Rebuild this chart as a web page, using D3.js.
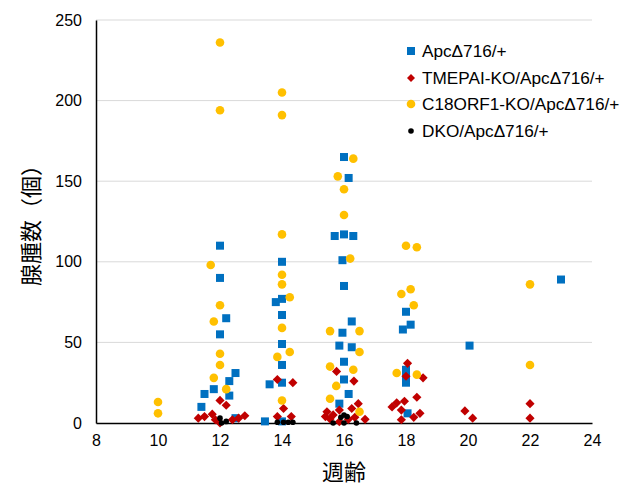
<!DOCTYPE html>
<html><head><meta charset="utf-8">
<script src="https://cdn.jsdelivr.net/npm/d3@7"></script>
<style>body{margin:0;background:#fff}svg{display:block}</style>
</head><body>
<svg id="c" width="634" height="493"></svg>
<script>
const seriesNames = ["ApcΔ716/+", "TMEPAI-KO/ApcΔ716/+", "C18ORF1-KO/ApcΔ716/+", "DKO/ApcΔ716/+"];
const xTicks = [8, 10, 12, 14, 16, 18, 20, 22, 24];
const yTicks = [0, 50, 100, 150, 200, 250];
const xTitle = "週齢";
const yTitle = "腺腫数（個）";

// [week (jittered), count]
const apc = [
  [12,110],[12,90],[12.2,65],[12,55],[12.5,31],[12.3,26],[11.8,21],[11.5,18],[12.3,17],[11.4,10],[12.5,3],
  [14,100],[13.8,75],[14,77],[14,67],[14,49],[14,36],[13.6,24],[14,25],[13.45,1],[14,1],
  [16,165],[16.15,152],[15.7,116],[16,117],[16.3,116],[15.95,101],[16,85],[16.25,63],[15.95,56],[15.85,48],[16.25,47],[16,38],[16,27],[16.15,18],[15.85,12],
  [18,69],[18.15,61],[17.9,58],[18,33],[18,29],[18,25],[18.05,6],
  [20.05,48],
  [23,89]
];
const tmepai = [
  [12,14],[12.2,11],[11.3,3],[11.5,4],[11.75,5.5],[11.85,2],[12,0],[12.4,2],[12.6,3],[12.8,4.5],
  [13.85,27],[14.35,25],[14.05,9],[13.85,4],[14.3,4],
  [15.76,32],[16.32,26],[16.46,12],[16.25,9],[15.45,7],[15.85,8],[15.4,4],[15.55,2.5],[16.35,3.5],[16.68,2.3],[15.85,0.8],[15.65,5],[16.14,2.3],
  [18.05,37],[18,29],[18.55,28],[18.35,16],[17.55,10],[17.7,12.5],[17.95,13.5],[17.85,8],[18.45,6],[18.25,3.5],[17.85,2],
  [19.9,7.5],[20.15,3],
  [22,12],[22,3]
];
const c18 = [
  [10,13],[10,6],
  [12,236],[12,194],[11.7,98],[12,73],[11.8,63],[12,43],[12,36],[11.8,28],[12.2,21],
  [14,205],[14,191],[14,117],[14,92],[14,86],[14.25,78],[14,59],[13.85,41],[14.25,44],[14,14],
  [16.3,164],[15.8,153],[16,145],[16,129],[16.2,102],[15.55,57],[16.5,57],[16.5,44],[15.55,35],[16.3,33],[15.75,23],[15.55,15],[16.5,7],
  [18,110],[18.35,109],[17.85,80],[18.15,83],[18.25,73],[17.7,31],[18.35,30],
  [22,86],[22,36]
];
const dko = [
  [12,3],[12.2,1],[12.05,0],
  [13.85,0.5],[14.05,0.5],[14.2,0.5],[14.35,0.5],
  [16,5],[16.1,4],[15.9,3.5],[15.65,0],[16,0],[16.4,0]
];

const svg = d3.select("#c");
const L = 96, R = 592, T = 20, B = 423;
const x = d3.scaleLinear().domain([8, 24]).range([L, R]);
const y = d3.scaleLinear().domain([0, 250]).range([B, T]);
const font = "'Liberation Sans', Arial, sans-serif";
const cjk = "'Noto Sans CJK JP', sans-serif";

// gridlines
svg.append("g").selectAll("line").data(yTicks.filter(d => d > 0)).join("line")
  .attr("x1", L).attr("x2", R).attr("y1", d => y(d)).attr("y2", d => y(d))
  .attr("stroke", "#d9d9d9").attr("stroke-width", 1);

// axes
const yAxis = svg.append("g").attr("transform", `translate(${L},0)`)
  .call(d3.axisLeft(y).tickValues(yTicks).tickSize(0).tickPadding(14));
yAxis.select(".domain").attr("stroke", "#000").attr("stroke-width", 1.5);
yAxis.selectAll("text").attr("font-family", font).attr("font-size", 16).attr("fill", "#000");

const xAxis = svg.append("g").attr("transform", `translate(0,${B})`)
  .call(d3.axisBottom(x).tickValues(xTicks).tickSize(0).tickPadding(12));
xAxis.select(".domain").attr("stroke", "#000").attr("stroke-width", 1.5);
xAxis.selectAll("text").attr("font-family", font).attr("font-size", 16).attr("fill", "#000");

// titles
svg.append("text").attr("x", 344).attr("y", 480).attr("text-anchor", "middle")
  .attr("font-family", cjk).attr("font-size", 22).attr("fill", "#000").text(xTitle);
svg.append("text").attr("transform", "translate(39,220) rotate(-90)").attr("text-anchor", "middle")
  .attr("font-family", cjk).attr("font-size", 22).attr("fill", "#000").text(yTitle);

// marks
const sq = 8;
svg.append("g").selectAll("rect").data(apc).join("rect")
  .attr("x", d => x(d[0]) - sq/2).attr("y", d => y(d[1]) - sq/2)
  .attr("width", sq).attr("height", sq).attr("fill", "#0070C0");

svg.append("g").selectAll("path").data(tmepai).join("path")
  .attr("d", d3.symbol().type(d3.symbolSquare).size(42))
  .attr("transform", d => `translate(${x(d[0])},${y(d[1])}) rotate(45)`)
  .attr("fill", "#C00000");

svg.append("g").selectAll("circle").data(c18).join("circle")
  .attr("cx", d => x(d[0])).attr("cy", d => y(d[1])).attr("r", 4.3).attr("fill", "#FFC000");

svg.append("g").selectAll("circle").data(dko).join("circle")
  .attr("cx", d => x(d[0])).attr("cy", d => y(d[1])).attr("r", 2.8).attr("fill", "#000");

// legend
const lg = svg.append("g");
lg.append("rect").attr("x", 420).attr("y", 38).attr("width", 214).attr("height", 104).attr("fill", "#fff");
const ly = [51, 78, 104, 131];
seriesNames.forEach((name, i) => {
  const cy = ly[i], cx = 411;
  if (i === 0) lg.append("rect").attr("x", cx - 4).attr("y", cy - 4).attr("width", 8).attr("height", 8).attr("fill", "#0070C0");
  if (i === 1) lg.append("path").attr("d", d3.symbol().type(d3.symbolSquare).size(32)).attr("transform", `translate(${cx},${cy}) rotate(45)`).attr("fill", "#C00000");
  if (i === 2) lg.append("circle").attr("cx", cx).attr("cy", cy).attr("r", 4.3).attr("fill", "#FFC000");
  if (i === 3) lg.append("circle").attr("cx", cx).attr("cy", cy).attr("r", 2.8).attr("fill", "#000");
  lg.append("text").attr("x", 422).attr("y", cy).attr("dy", "0.36em")
    .attr("font-family", font).attr("font-size", 17.2).attr("fill", "#000").text(name);
});
</script>
</body></html>
